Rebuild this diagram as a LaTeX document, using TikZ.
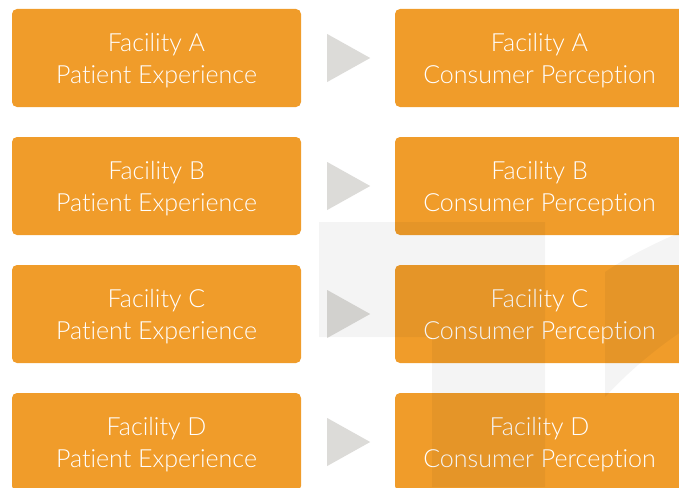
\documentclass[tikz,border=0pt]{standalone}
\usepackage{fontspec}
\setmainfont{Lato}[UprightFont=* Light, Ligatures=NoCommon]
\usetikzlibrary{shapes.geometric}
\definecolor{boxorange}{HTML}{F09C2A}
\definecolor{arrowgray}{HTML}{DCDBD8}
\newcommand{\padtop}[1]{\raisebox{0pt}[\dimexpr\height+5pt\relax]{#1}}
\begin{document}
\begin{tikzpicture}[x=1pt, y=-1pt, font=\fontsize{25}{31.5}\selectfont,
		facility/.style={fill=boxorange, text=white, rounded corners=5pt, minimum width=289pt, minimum height=98pt, align=center, inner sep=0pt},
		pointer/.style={isosceles triangle, isosceles triangle stretches, fill=arrowgray, minimum width=48pt, minimum height=43pt, inner sep=0pt, anchor=west}]
	\useasboundingbox (0,0) rectangle (679,487);
	\clip (0,0) rectangle (679,487);
	\foreach \r/\n in {0/A,1/B,2/C,3/D}{
		\node[facility] (pat\n) at (156.5,58+128*\r) {\padtop{Facility \n}\\Patient Experience};
		\node[facility] (con\n) at (539.5,58+128*\r) {\padtop{Facility \n}\\Consumer Perception};
		\node[pointer] (arr\n) at (327,58+128*\r) {};
	}
	\fill[black, fill opacity=0.042] (319,222) -- (545,222) -- (545,487) -- (432,487) -- (432,337) -- (319,337) -- cycle;
	\fill[black, fill opacity=0.042] (605,272) .. controls (630,255) and (655,243) .. (690,228) -- (690,326) .. controls (660,345) and (630,370) .. (605,397) -- cycle;
\end{tikzpicture}
\end{document}
